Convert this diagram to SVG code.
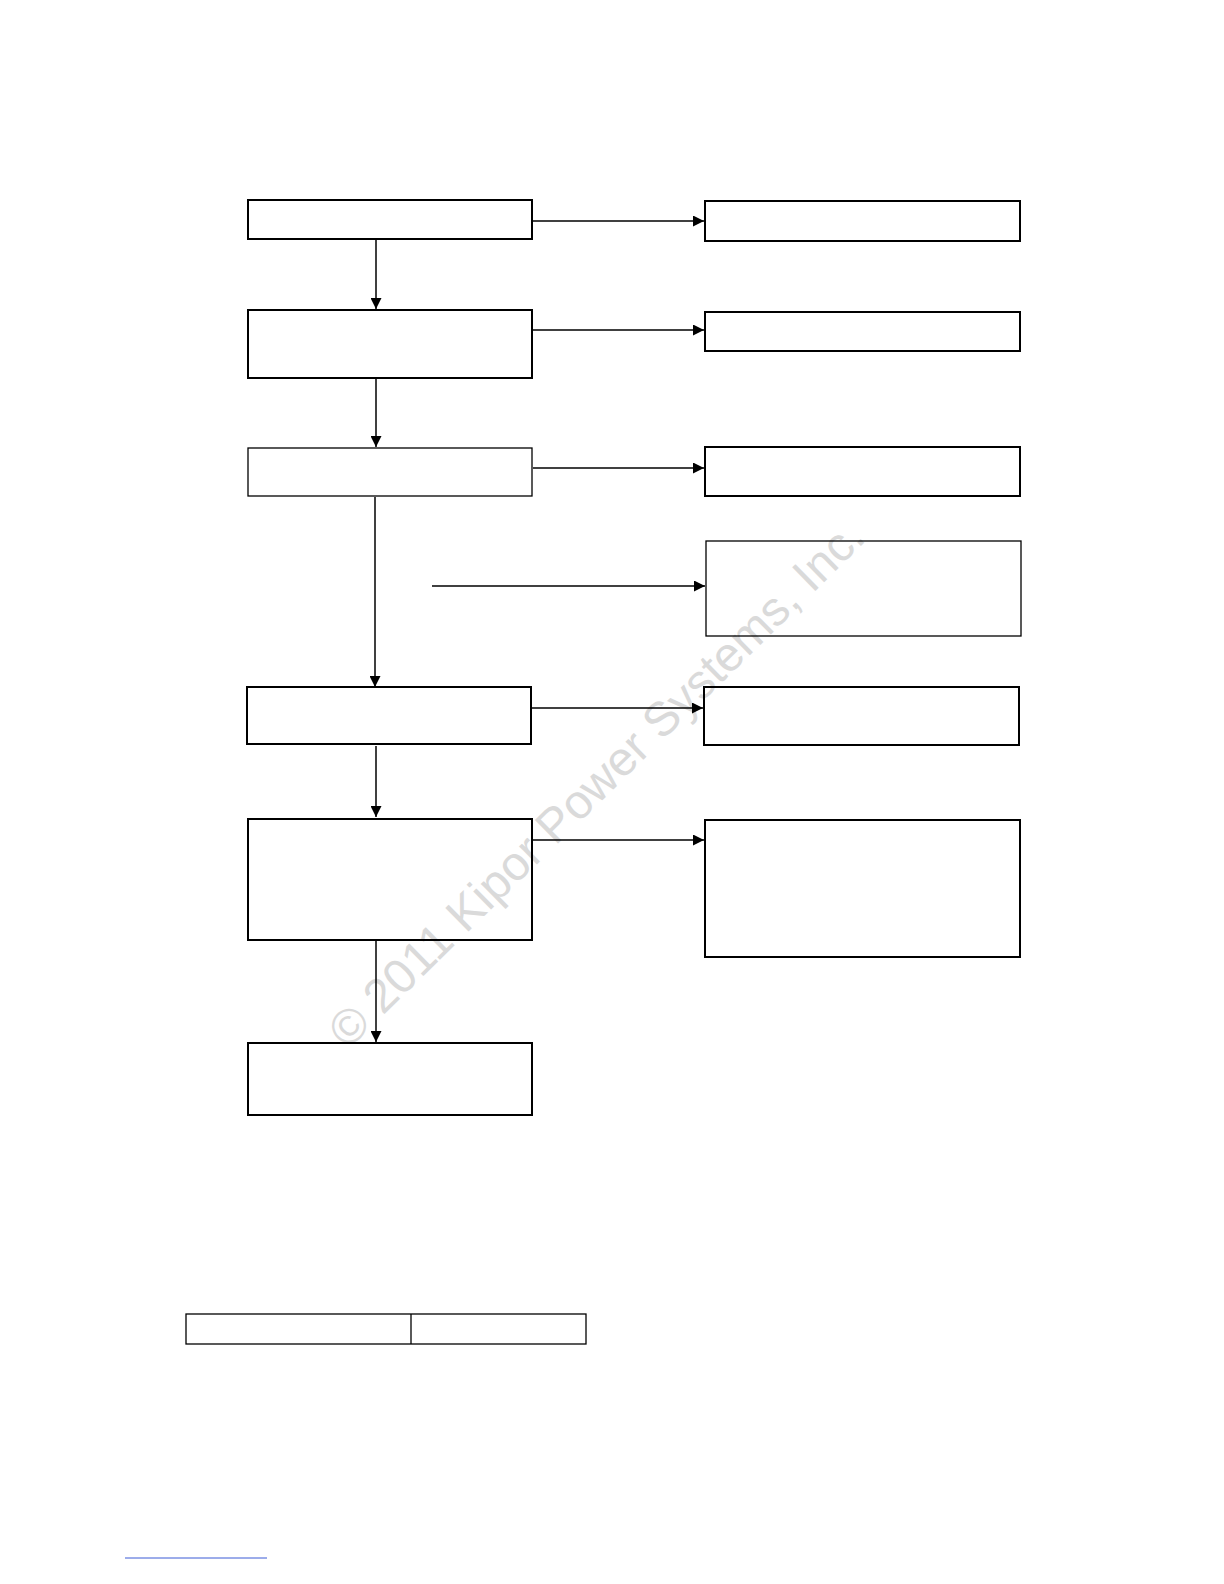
<svg xmlns="http://www.w3.org/2000/svg" width="1224" height="1584" viewBox="0 0 1224 1584">
<style>
.box{fill:none;stroke:#000;stroke-width:2}
.thin{fill:none;stroke:#000;stroke-width:1.3}
.conn{stroke:#000;stroke-width:1.5;fill:none}
.wm{font-family:"Liberation Sans",Arial,sans-serif;font-size:48px;fill:#dadada}
</style>
<defs>
<marker id="ah" viewBox="0 0 10 10" refX="10" refY="5" markerWidth="11" markerHeight="11" markerUnits="userSpaceOnUse" orient="auto">
<path d="M0,0 L10,5 L0,10 z" fill="#000"/>
</marker>
</defs>
<rect width="1224" height="1584" fill="#fff"/>
<text class="wm" x="348" y="1050" transform="rotate(-44.5 348 1050)">© 2011 Kipor Power Systems, Inc.</text>
<g id="connectors">
<line class="conn" x1="376" y1="240" x2="376" y2="309" marker-end="url(#ah)"/>
<line class="conn" x1="376" y1="379" x2="376" y2="447" marker-end="url(#ah)"/>
<line class="conn" x1="375" y1="497" x2="375" y2="687" marker-end="url(#ah)"/>
<line class="conn" x1="376" y1="746" x2="376" y2="817" marker-end="url(#ah)"/>
<line class="conn" x1="376" y1="941" x2="376" y2="1042" marker-end="url(#ah)"/>
<line class="conn" x1="533" y1="221" x2="704" y2="221" marker-end="url(#ah)"/>
<line class="conn" x1="533" y1="330" x2="704" y2="330" marker-end="url(#ah)"/>
<line class="conn" x1="533" y1="468" x2="704" y2="468" marker-end="url(#ah)"/>
<line class="conn" x1="432" y1="586" x2="705" y2="586" marker-end="url(#ah)"/>
<line class="conn" x1="532" y1="708" x2="703" y2="708" marker-end="url(#ah)"/>
<line class="conn" x1="533" y1="840" x2="704" y2="840" marker-end="url(#ah)"/>
</g>
<g id="n1"><rect class="box" x="248" y="200" width="284" height="39"/></g>
<g id="n2"><rect class="box" x="248" y="310" width="284" height="68"/></g>
<g id="n3"><rect class="thin" x="248" y="448" width="284" height="48"/></g>
<g id="n4"><rect class="box" x="247" y="687" width="284" height="57"/></g>
<g id="n5"><rect class="box" x="248" y="819" width="284" height="121"/></g>
<g id="n6"><rect class="box" x="248" y="1043" width="284" height="72"/></g>
<g id="r1"><rect class="box" x="705" y="201" width="315" height="40"/></g>
<g id="r2"><rect class="box" x="705" y="312" width="315" height="39"/></g>
<g id="r3"><rect class="box" x="705" y="447" width="315" height="49"/></g>
<g id="r4"><rect class="thin" x="706" y="541" width="315" height="95"/></g>
<g id="r5"><rect class="box" x="704" y="687" width="315" height="58"/></g>
<g id="r6"><rect class="box" x="705" y="820" width="315" height="137"/></g>
<g id="table">
<rect class="thin" x="186" y="1314" width="400" height="30"/>
<line class="thin" x1="411" y1="1314" x2="411" y2="1344"/>
</g>
<line x1="125" y1="1558" x2="267" y2="1558" stroke="#3b5bd6" stroke-width="1"/>
</svg>
